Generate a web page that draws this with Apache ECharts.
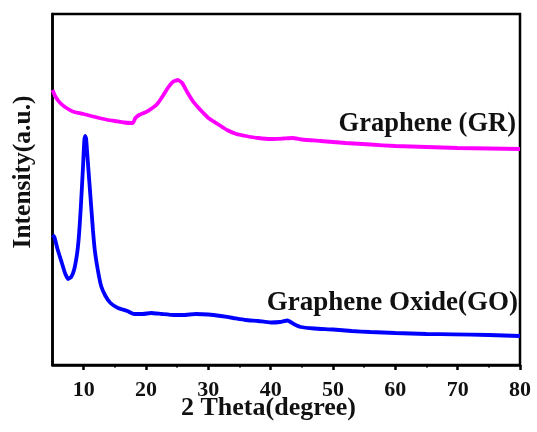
<!DOCTYPE html>
<html>
<head>
<meta charset="utf-8">
<script src="https://cdn.jsdelivr.net/npm/echarts@6/dist/echarts.min.js"></script>
<style>html,body{margin:0;padding:0;background:#fff;}#c{width:537px;height:432px;}</style>
</head>
<body>
<div id="c"></div>
<script>
// 2θ positions and intensities (arbitrary units)
const grTheta = [5.0,5.5,6.4,7.5,8.5,10,11.2,12.5,13.9,15,16.5,17.5,17.9,18.3,18.9,20,20.8,21.8,22.7,23.5,24.3,25.1,25.8,26.7,27.5,28.3,29.2,30,31.5,33,34.5,36,38,40,42,43.5,45,48,52,56,60,65,70,75,80];
const grInt   = [275,268,261,256,253,251,249,247,245,244,242.5,242,242,247,250,253,256,261,269,277,283,285,282,272,264,258,252,247,241,235,231,229,227,226,226.5,227,225.5,224,222,220.5,219,218,217,216.5,216];
const goTheta = [5.0,5.3,5.8,6.5,7.0,7.5,8.0,8.5,9.0,9.3,9.6,9.9,10.1,10.25,10.4,10.6,10.9,11.2,11.5,11.8,12.3,12.8,13.5,14.3,15.5,17,18.1,19.5,20.8,22.5,24.5,26,28,30,32,34,36,38,40,41.5,42.7,43.7,44.8,47,50,53,56,60,65,69.3,75,80];
const goInt   = [130,128,116,102,92,86,88,96,114,134,164,199,224,229,226,209,184,159,134,114,94,79,69,62,57,54,51,51,52,51,50,50,51,50.5,49,47,45,44,42.5,43,44.5,41,38,36.5,35.5,34,33,32,31,30.7,30,29];
const xTicks = [10,20,30,40,50,60,70,80];
const xMinorTicks = [15,25,35,45,55,65,75];
const seriesNames = ['Graphene (GR)','Graphene Oxide(GO)'];
const xTitle = '2 Theta(degree)';
const yTitle = 'Intensity(a.u.)';

const pair = (xs, ys) => xs.map((x, i) => [x, ys[i]]);
const serif = '"Liberation Serif","Times New Roman",serif';
const chart = echarts.init(document.getElementById('c'), null, {renderer: 'canvas'});
chart.setOption({
  animation: false,
  backgroundColor: '#fff',
  grid: {left: 52.5, right: 17, top: 14, bottom: 67, show: true, borderColor: '#000', borderWidth: 2.5, backgroundColor: 'transparent'},
  xAxis: [{
    type: 'value', min: 5, max: 80,
    axisLine: {show: true, lineStyle: {color: '#000', width: 2.5}},
    axisTick: {show: true, inside: false, length: 5, customValues: xTicks, lineStyle: {color: '#000', width: 2.5}},
    axisLabel: {show: true, customValues: xTicks, margin: 14, color: '#111', fontFamily: serif, fontWeight: 'bold', fontSize: 22},
    splitLine: {show: false}
  }, {
    type: 'value', min: 5, max: 80, position: 'bottom',
    axisLine: {show: false},
    axisTick: {show: true, inside: false, length: 2.5, customValues: xMinorTicks, lineStyle: {color: '#000', width: 2}},
    axisLabel: {show: false},
    splitLine: {show: false}
  }],
  yAxis: {
    type: 'value', min: 0, max: 351,
    axisLine: {show: true, lineStyle: {color: '#000', width: 2.5}},
    axisTick: {show: false}, axisLabel: {show: false}, splitLine: {show: false}
  },
  series: [
    {name: seriesNames[0], type: 'line', xAxisIndex: 0, data: pair(grTheta, grInt), showSymbol: false, smooth: 0.15,
     lineStyle: {color: '#FF00FF', width: 3.8}},
    {name: seriesNames[1], type: 'line', xAxisIndex: 0, data: pair(goTheta, goInt), showSymbol: false, smooth: 0.15,
     lineStyle: {color: '#0000FF', width: 3.8}}
  ],
  graphic: [
    {type: 'text', right: 21, top: 111, style: {text: seriesNames[0], fill: '#111', font: 'bold 26.5px ' + serif}},
    {type: 'text', right: 19, top: 290, style: {text: seriesNames[1], fill: '#111', font: 'bold 27px ' + serif}},
    {type: 'text', left: 'center', top: 395, style: {text: xTitle, fill: '#111', font: 'bold 26px ' + serif}},
    {type: 'text', x: 23, y: 172, rotation: Math.PI / 2,
     style: {text: yTitle, fill: '#111', font: 'bold 25.5px ' + serif, textAlign: 'center', textVerticalAlign: 'middle'}}
  ]
});
</script>
</body>
</html>
